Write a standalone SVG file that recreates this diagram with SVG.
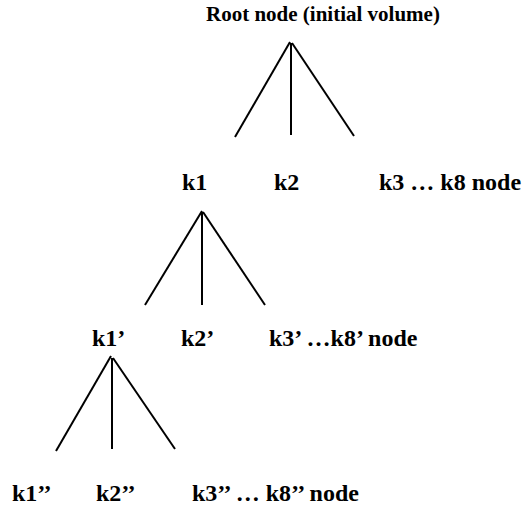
<svg xmlns="http://www.w3.org/2000/svg" width="526" height="511" viewBox="0 0 526 511">
<style>
.t{font-family:'Liberation Serif','Times New Roman',serif;font-weight:700;font-size:24px;fill:#000}
.r{font-size:21px}
.e line{stroke:#000;stroke-width:2;fill:none}
</style>
<rect width="526" height="511" fill="#fff"/>
<g id="root"><text class="t r" x="206" y="21">Root node (initial volume)</text></g>
<g id="k1"><text class="t" x="182" y="190">k1</text></g>
<g id="k2"><text class="t" x="274" y="190">k2</text></g>
<g id="k3-k8"><text class="t" x="379" y="190">k3 … k8 node</text></g>
<g id="k1p"><text class="t" x="92" y="346">k1’</text></g>
<g id="k2p"><text class="t" x="181" y="346">k2’</text></g>
<g id="k3p-k8p"><text class="t" x="269" y="346">k3’ …k8’ node</text></g>
<g id="k1pp"><text class="t" x="12" y="501">k1’’</text></g>
<g id="k2pp"><text class="t" x="96" y="501">k2’’</text></g>
<g id="k3pp-k8pp"><text class="t" x="192" y="501">k3’’ … k8’’ node</text></g>
<g class="e" id="connectors">
<line x1="290" y1="42" x2="235" y2="137"/>
<line x1="291" y1="43" x2="291" y2="135"/>
<line x1="292" y1="43" x2="354" y2="136"/>
<line x1="202" y1="211" x2="145" y2="305"/>
<line x1="202" y1="212" x2="202" y2="305"/>
<line x1="203" y1="212" x2="265" y2="305"/>
<line x1="111" y1="356" x2="56" y2="451"/>
<line x1="112" y1="358" x2="112" y2="449"/>
<line x1="113" y1="358" x2="175" y2="449"/>
</g>
</svg>
